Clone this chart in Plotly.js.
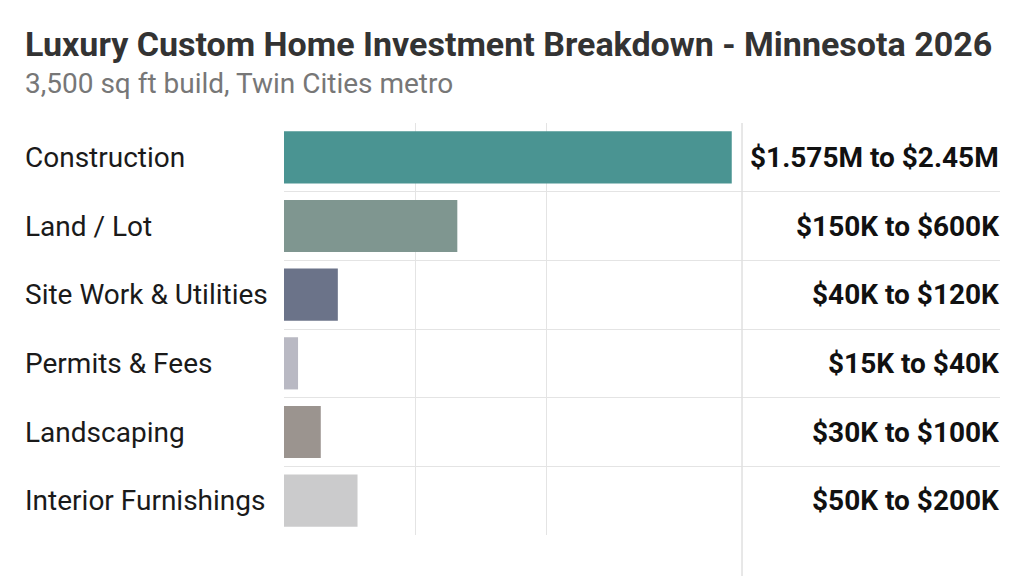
<!DOCTYPE html>
<html>
<head>
<meta charset="utf-8">
<script src="https://cdn.plot.ly/plotly-3.0.1.min.js"></script>
<style>
  html, body { margin: 0; padding: 0; background: #fff; }
  #chart { width: 1024px; height: 576px; }
</style>
</head>
<body>
<div id="chart"></div>
<script>
// Cost categories, top to bottom
const categories = [
  'Construction', 'Land / Lot', 'Site Work & Utilities',
  'Permits & Fees', 'Landscaping', 'Interior Furnishings'
];
// Bar lengths as drawn (relative scale)
const barSize = [3.41, 1.32, 0.41, 0.107, 0.28, 0.56];
// Range labels shown on the right
const rangeLabels = [
  '$1.575M to $2.45M', '$150K to $600K', '$40K to $120K',
  '$15K to $40K', '$30K to $100K', '$50K to $200K'
];
const barColors = ['#4a9492', '#7f9690', '#6b7389', '#b9b9c3', '#9b948f', '#cbcbcc'];

const FONT = 'Roboto, "Noto Sans", sans-serif';
const idx = categories.map((_, i) => i);
const LEFT = -0.3645;

const trace = {
  type: 'bar',
  orientation: 'h',
  x: barSize,
  y: idx,
  width: 0.76,
  marker: { color: barColors, line: { width: 0 } },
  hoverinfo: 'skip'
};

// category names on the left, range text on the right
const annotations = [];
categories.forEach((c, i) => {
  annotations.push({
    text: c, xref: 'paper', yref: 'y', x: LEFT, y: i,
    xanchor: 'left', yanchor: 'middle', showarrow: false,
    font: { family: FONT, size: 28, color: '#1a1a1a' }
  });
  annotations.push({
    text: '<b>' + rangeLabels[i] + '</b>', xref: 'paper', yref: 'y', x: 1.001, y: i,
    xanchor: 'right', yanchor: 'middle', showarrow: false,
    font: { family: FONT, size: 28, color: '#111' }
  });
});

annotations.push({
  text: '<b>Luxury Custom Home Investment Breakdown - Minnesota 2026</b>',
  xref: 'paper', yref: 'paper', x: LEFT, y: 1.192,
  xanchor: 'left', yanchor: 'middle', showarrow: false,
  font: { family: FONT, size: 34, color: '#333' }
});
annotations.push({
  text: '3,500 sq ft build, Twin Cities metro',
  xref: 'paper', yref: 'paper', x: LEFT, y: 1.097,
  xanchor: 'left', yanchor: 'middle', showarrow: false,
  font: { family: FONT, size: 28, color: '#777' }
});

const layout = {
  width: 1024,
  height: 576,
  paper_bgcolor: '#fff',
  plot_bgcolor: '#fff',
  margin: { t: 123, r: 24, b: 41, l: 284 },
  showlegend: false,
  font: { family: FONT },
  xaxis: {
    range: [0, 5.453],
    tickvals: [0, 1, 2],
    showticklabels: false,
    showgrid: true,
    gridcolor: '#e4e4e4',
    gridwidth: 1,
    zeroline: false,
    showline: false,
    fixedrange: true
  },
  yaxis: {
    range: [5.5, -0.5],
    showticklabels: false,
    showgrid: false,
    zeroline: false,
    showline: false,
    minor: {
      tickmode: 'array',
      tickvals: [0.5, 1.5, 2.5, 3.5, 4.5],
      showgrid: true,
      gridcolor: '#e4e4e4',
      gridwidth: 1,
      ticks: ''
    },
    fixedrange: true
  },
  shapes: [{
    type: 'line', xref: 'paper', yref: 'paper',
    x0: 0.6397, x1: 0.6397, y0: 1, y1: -0.0995,
    line: { color: '#e0e0e0', width: 1.5 }
  }],
  annotations
};

Plotly.newPlot('chart', [trace], layout, { displayModeBar: false, staticPlot: true });
</script>
</body>
</html>
